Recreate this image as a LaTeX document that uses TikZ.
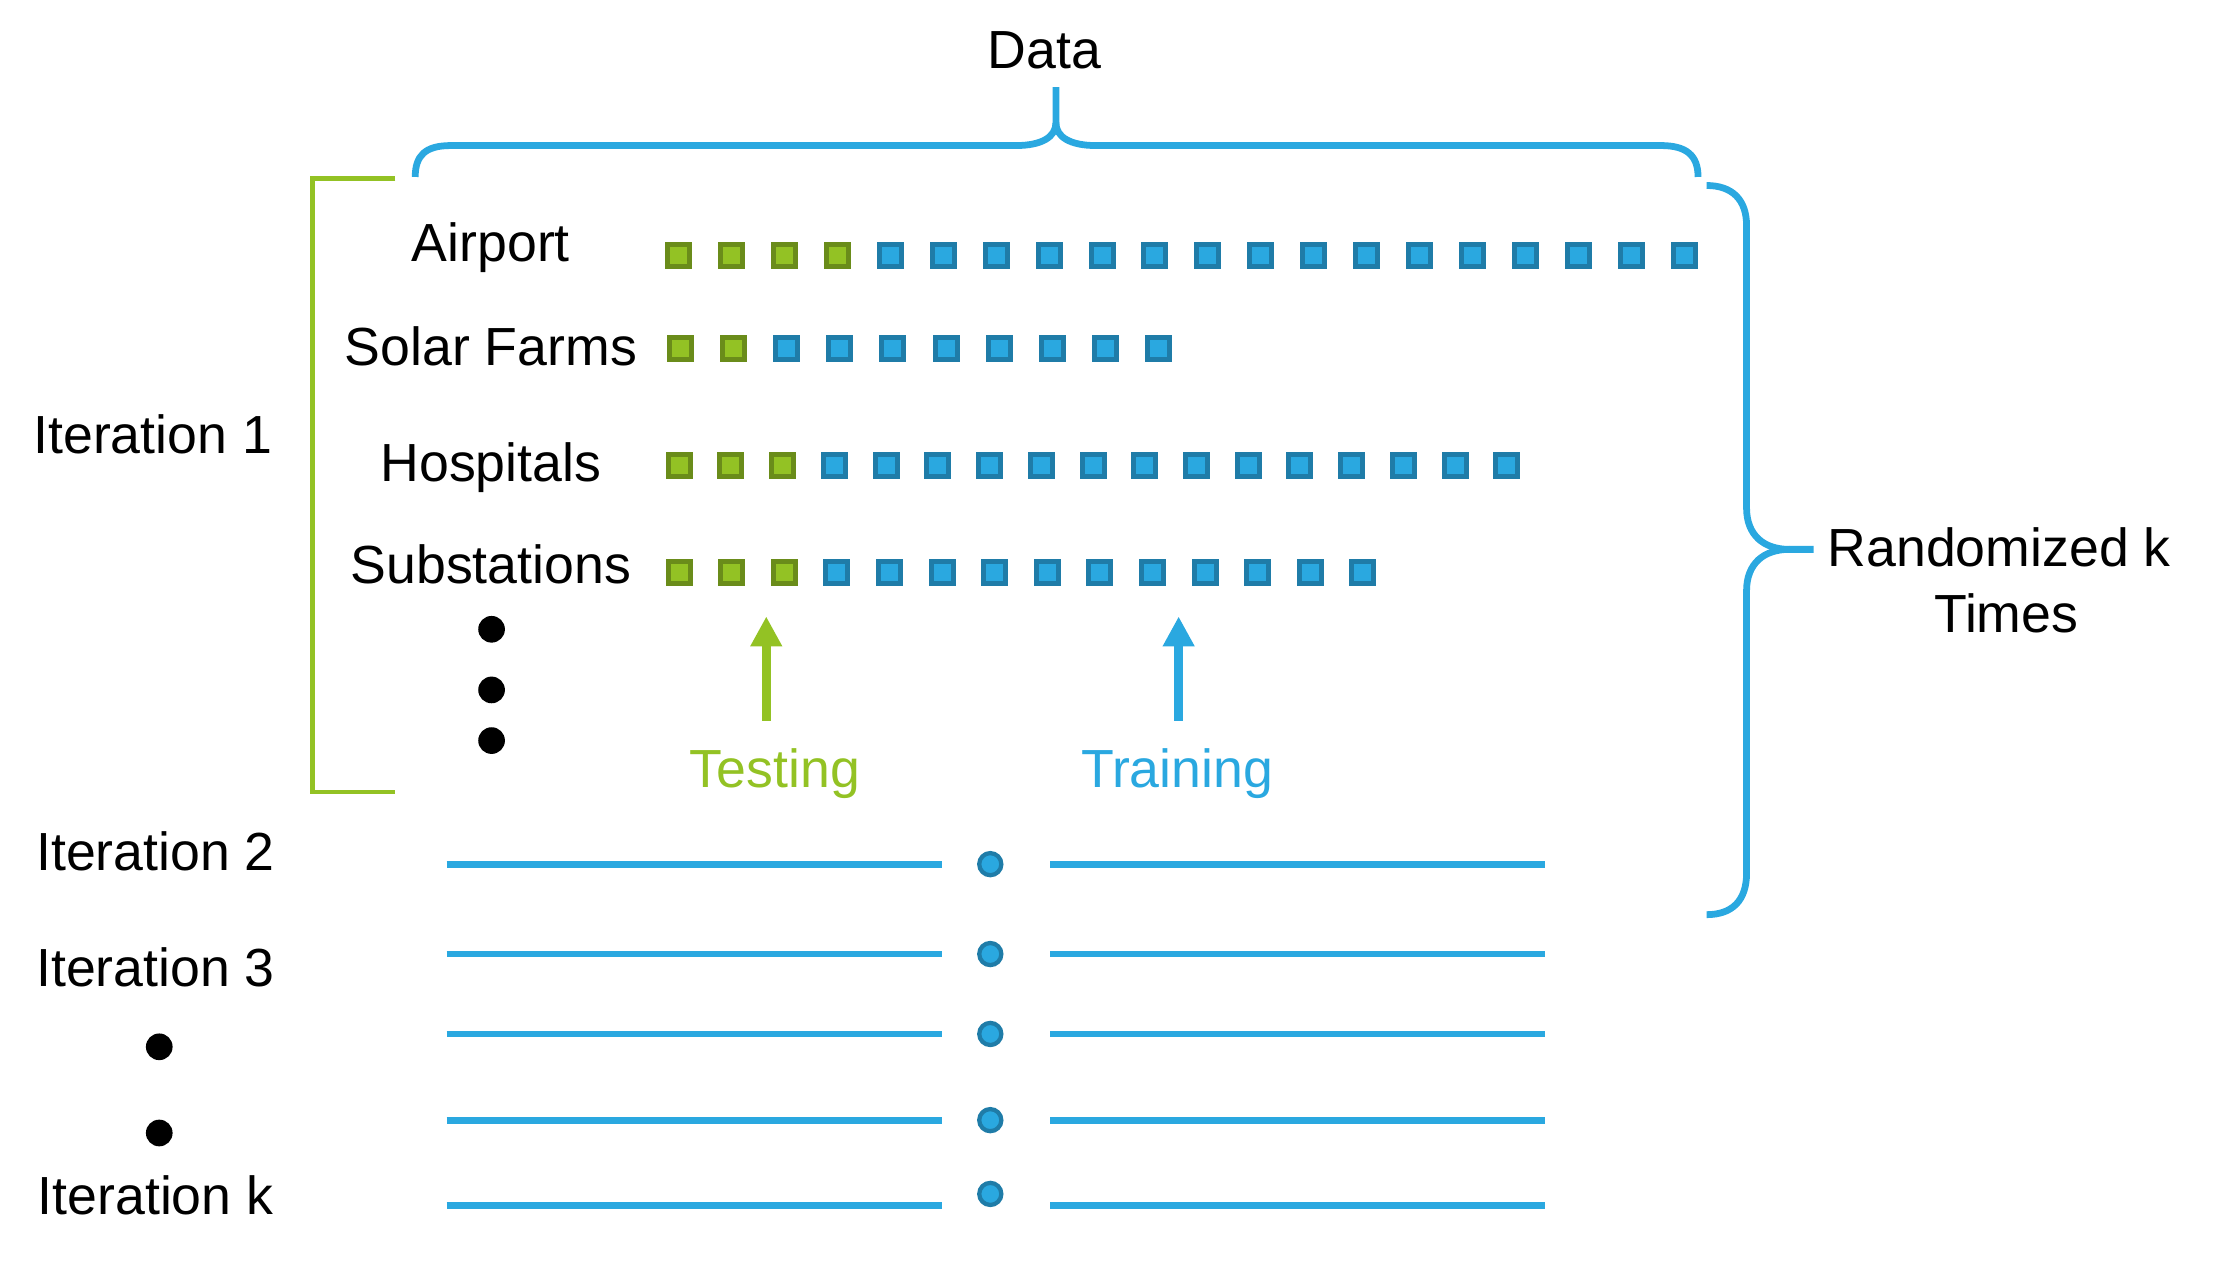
\documentclass[tikz,border=0pt]{standalone}
\usepackage{fontspec}
\setmainfont{Liberation Sans}
\usetikzlibrary{arrows.meta}
\definecolor{tgreen}{HTML}{93C224}
\definecolor{tgreendk}{HTML}{6A8C1A}
\definecolor{tblue}{HTML}{2AA8E0}
\definecolor{tbluedk}{HTML}{1F7CA8}
\tikzstyle{txt}=[font=\fontsize{10.7}{13}\selectfont, anchor=base, inner sep=0pt]
\tikzstyle{testsq}=[draw=tgreendk, fill=tgreen, line width=1pt, minimum size=1.54mm, inner sep=0pt]
\tikzstyle{trainsq}=[testsq, draw=tbluedk, fill=tblue]
\tikzstyle{bigdot}=[circle, fill=black, minimum size=1.87mm, inner sep=0pt]
\tikzstyle{iterdot}=[circle, draw=tbluedk, fill=tblue, line width=0.85pt, minimum size=1.55mm, inner sep=0pt]
\tikzstyle{bluebrace}=[draw=tblue, line width=1.35pt]
\tikzstyle{iterline}=[draw=tblue, line width=1.35pt]
\tikzstyle{pointer}=[line width=1.9pt, -{Triangle[length=2.1mm,width=2.1mm]}]
% row of squares: name, y, first x, spacing, testing count, total count
\def\sqrow#1#2#3#4#5#6{%
  \foreach \i in {1,...,#5}
    \node[testsq] (#1\i) at ({#3+(\i-1)*#4},#2) {};
  \pgfmathtruncatemacro\nfirst{#5+1}
  \foreach \i in {\nfirst,...,#6}
    \node[trainsq] (#1\i) at ({#3+(\i-1)*#4},#2) {};
}

\begin{document}
\begin{tikzpicture}[x=0.1mm, y=-0.1mm]
	\useasboundingbox (0,0) rectangle (1560,884.4);
	% Define the nodes in the picture
	\node[txt] (data) at (732,48) {Data};
	\node[txt] (it1) at (107,317.6) {Iteration 1};
	\node[txt] (airport) at (344,183) {Airport};
	\node[txt] (solar) at (344,256) {Solar Farms};
	\node[txt] (hosp) at (344,337.5) {Hospitals};
	\node[txt] (subst) at (344,409) {Substations};
	\sqrow{air}{179}{475.5}{37.1}{4}{20}
	\sqrow{sol}{244}{477}{37.2}{2}{10}
	\sqrow{hos}{326}{476}{36.25}{3}{17}
	\sqrow{sub}{401}{476}{36.85}{3}{14}
	\node[bigdot] (d1) at (344.5,441) {};
	\node[bigdot] (d2) at (344.5,483.5) {};
	\node[bigdot] (d3) at (344.5,519) {};
	\node[txt, text=tgreen] (testing) at (543,552) {Testing};
	\node[txt, text=tblue] (training) at (825,552) {Training};
	\coordinate (testtip) at (537,432);
	\coordinate (testfoot) at (537,505);
	\coordinate (traintip) at (826,432);
	\coordinate (trainfoot) at (826,505);
	\node[txt] (rand) at (1401,397) {Randomized k};
	\node[txt] (times) at (1406,443) {Times};
	\node[txt] (it2) at (109,610) {Iteration 2};
	\node[txt] (it3) at (109,691) {Iteration 3};
	\node[txt] (itk) at (109,851) {Iteration k};
	\node[bigdot] (d4) at (111.6,733.6) {};
	\node[bigdot] (d5) at (111.6,794) {};
	\foreach \y/\cy [count=\k] in {605.6/605.6,668.6/668.6,724.6/724.6,785/785,845/836.7}{
		\coordinate (la\k) at (313,\y);
		\coordinate (lb\k) at (660,\y);
		\coordinate (ra\k) at (736,\y);
		\coordinate (rb\k) at (1083,\y);
		\node[iterdot] (c\k) at (694,\cy) {};
	}

	% Define the edges in the picture
	\draw[draw=tgreen, line width=0.85pt] (277,125) -- (219,125) -- (219,555) -- (277,555);
	\draw[bluebrace] (291,124) .. controls (291,109) and (298,102) .. (316,102)
		-- (712,102) .. controls (730,102) and (740,96) .. (740,86) -- (740,61);
	\draw[bluebrace] (740,86) .. controls (740,96) and (750,102) .. (768,102)
		-- (1164,102) .. controls (1182,102) and (1190,109) .. (1190,124);
	\draw[bluebrace] (1196,130) .. controls (1214,130) and (1224,140) .. (1224,158)
		-- (1224,356) .. controls (1224,375) and (1236,385) .. (1254,385) -- (1271,385);
	\draw[bluebrace] (1254,385) .. controls (1236,385) and (1224,395) .. (1224,414)
		-- (1224,612) .. controls (1224,631) and (1214,641) .. (1196,641);
	\draw[pointer, tgreen] (testfoot) -- (testtip);
	\draw[pointer, tblue] (trainfoot) -- (traintip);
	\foreach \k in {1,...,5}{
		\draw[iterline] (la\k) -- (lb\k);
		\draw[iterline] (ra\k) -- (rb\k);
	}
\end{tikzpicture}
\end{document}
